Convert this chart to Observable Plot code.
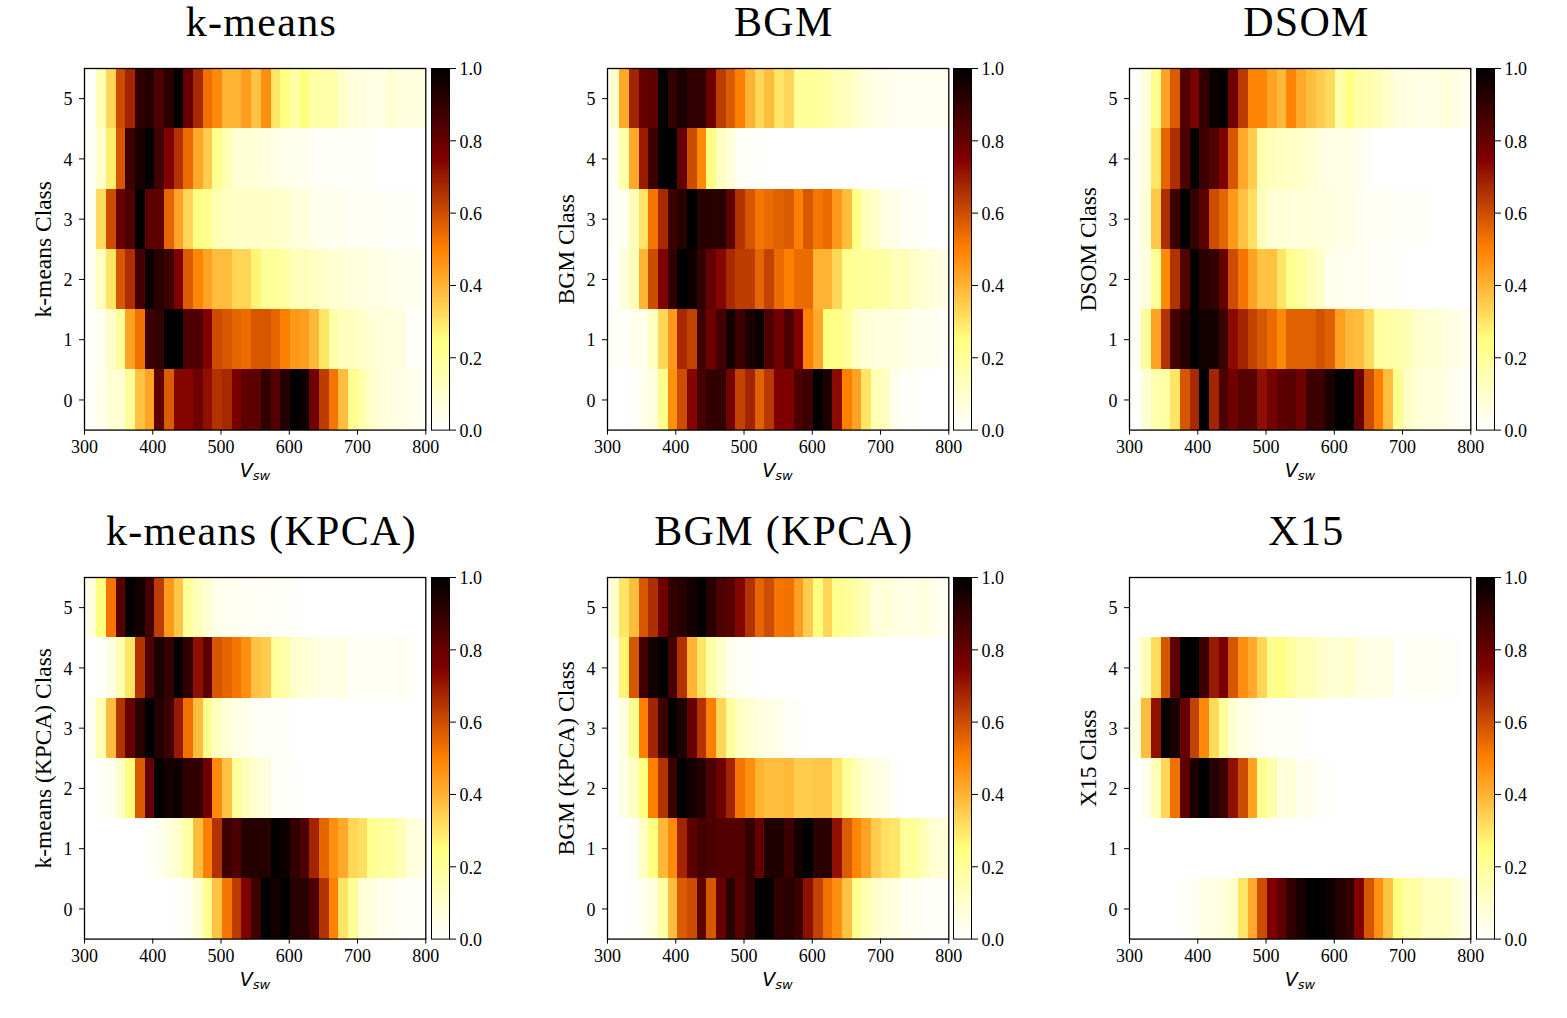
<!DOCTYPE html>
<html>
<head>
<meta charset="utf-8">
<script src="https://cdn.jsdelivr.net/npm/d3@7"></script>
<script src="https://cdn.jsdelivr.net/npm/@observablehq/plot@0.6"></script>
<style>
  html, body { margin: 0; background: #fff; }
  #page { position: relative; width: 1567px; height: 1018px; overflow: hidden; }
  #page svg { position: absolute; overflow: visible; }
  #page svg [aria-label="y-axis tick label"] { translate: 0 1px; }
  .title {
    position: absolute; transform: translateX(-50%); white-space: pre;
    font: 42px/46px "Liberation Serif", serif; letter-spacing: 1.3px; color: #000;
  }
  .vsw {
    position: absolute; transform: translateX(-50%); white-space: pre;
    font: italic 19px/22px "DejaVu Sans", sans-serif; color: #000;
  }
  .vsw sub { font-size: 13px; line-height: 0; vertical-align: -3px; }
</style>
</head>
<body>
<div id="page"></div>
<script>
// Six heatmaps of Vsw per class, each with its own colorbar. Colormap is afmhot_r.

// Bin edges on the Vsw axis (35 bins).
const vswEdges = [303.8, 318, 332.2, 346.4, 360.5, 374.7, 388.9, 403.1, 417.3, 431.5, 445.6, 459.8,
  474, 488.2, 502.4, 516.5, 530.7, 544.9, 559.1, 573.3, 587.5, 601.6, 615.8, 630, 644.2, 658.4,
  672.5, 686.7, 700.9, 715.1, 729.3, 743.5, 757.6, 771.8, 786, 800];
const xTicks = [300, 400, 500, 600, 700, 800];
const classTicks = [0, 1, 2, 3, 4, 5];
const barTicks = [0, 0.2, 0.4, 0.6, 0.8, 1];

// Each table has one row per class, class 0 first.
const kmeansRows = [
  [.01,.04,.08,.09,.2,.37,.43,.82,.57,.74,.74,.78,.72,.65,.67,.76,.82,.82,.9,.84,.93,1,.97,.78,.63,.52,.38,.22,.16,.1,.07,.06,.05,.04,.03],
  [.01,.03,.1,.2,.43,.53,.88,.9,1,1,.85,.85,.75,.6,.58,.55,.54,.58,.58,.55,.5,.45,.44,.39,.3,.17,.13,.12,.1,.08,.07,.07,.06,.01,.01],
  [.03,.12,.3,.58,.66,.87,.98,.92,.88,.75,.57,.49,.43,.38,.38,.33,.33,.27,.2,.2,.18,.14,.13,.12,.1,.09,.08,.07,.07,.05,.05,.04,.04,.03,.03],
  [.03,.32,.6,.8,.85,1,.82,.82,.55,.43,.33,.24,.22,.14,.12,.11,.11,.11,.11,.11,.1,.07,.07,.04,.04,.03,.03,.02,.02,.02,.02,.01,.01,.01,0],
  [.02,.1,.28,.58,.88,.95,.99,.87,.75,.65,.54,.42,.35,.22,.15,.09,.08,.07,.06,.05,.04,.04,.03,.02,.02,.01,.01,.01,.01,.01,0,0,0,0,0],
  [.01,.14,.33,.6,.68,.9,.93,.85,.92,.99,.8,.67,.53,.48,.4,.4,.44,.37,.47,.3,.25,.17,.25,.18,.17,.17,.1,.07,.06,.05,.05,.09,.07,.06,.06]
];
const bgmRows = [
  [0,0,.01,.04,.06,.22,.47,.6,.74,.86,.9,.9,.77,.62,.68,.56,.64,.75,.75,.85,.88,1,.94,.73,.5,.43,.3,.15,.12,.04,.01,.01,0,0,0],
  [.01,.01,.04,.04,.12,.33,.45,.67,.62,.88,.78,.87,.96,.88,.95,.98,.85,.78,.85,.75,.5,.42,.25,.24,.2,.11,.08,.07,.07,.06,.05,.04,.03,.03,.01],
  [0,.07,.14,.4,.6,.75,.9,1,.97,.9,.8,.74,.67,.63,.63,.55,.62,.54,.5,.54,.54,.4,.4,.33,.22,.2,.2,.18,.18,.14,.14,.1,.09,.07,.05],
  [.01,.03,.14,.3,.52,.67,.88,.93,1,.93,.92,.92,.82,.65,.58,.52,.54,.56,.57,.5,.58,.52,.54,.45,.38,.24,.13,.1,.05,.05,.02,.02,.01,0,0],
  [.02,.17,.42,.7,.88,1,1,.8,.6,.48,.24,.12,.07,.02,.01,.01,0,0,0,0,0,0,0,0,0,0,0,0,0,0,0,0,0,0,0],
  [.1,.42,.68,.8,.82,1,.9,.95,.9,.9,.78,.63,.57,.5,.4,.33,.38,.3,.33,.2,.2,.19,.18,.14,.13,.1,.07,.05,.04,.03,.03,.03,.03,.03,.03]
];
const dsomRows = [
  [.01,.08,.16,.17,.3,.58,.67,1,.68,.85,.78,.83,.83,.72,.77,.82,.83,.78,.88,.88,.95,1,1,.8,.6,.5,.38,.22,.11,.08,.06,.06,.05,.02,.01],
  [.02,.2,.43,.65,.86,.92,1,.96,.96,.88,.73,.68,.62,.58,.54,.48,.56,.56,.56,.59,.56,.44,.39,.38,.32,.19,.18,.16,.15,.1,.09,.08,.06,.05,.03],
  [.02,.07,.2,.48,.65,.84,1,.92,.9,.8,.6,.52,.43,.37,.37,.3,.22,.19,.14,.11,.04,.03,.03,.03,.02,.01,.01,.01,0,0,0,0,0,0,0],
  [.02,.08,.36,.66,.88,1,.9,.82,.6,.55,.45,.37,.31,.13,.08,.08,.07,.07,.07,.07,.06,.05,.05,.03,.02,.02,.02,.01,.01,.01,.01,0,0,0,0],
  [.02,.07,.3,.55,.66,.85,1,.88,.84,.75,.58,.42,.35,.16,.13,.12,.11,.1,.09,.06,.05,.05,.05,.04,.01,0,0,0,0,0,0,0,0,0,0],
  [.01,.07,.22,.43,.57,.84,.76,.9,.98,.99,.78,.63,.49,.49,.43,.39,.49,.42,.38,.35,.32,.17,.25,.17,.16,.13,.1,.06,.06,.05,.05,.05,.07,.05,.04]
];
const kmeansKpcaRows = [
  [0,0,0,0,0,0,0,0,0,.01,.03,.09,.22,.37,.52,.63,.75,.88,1,.96,1,.92,.92,.85,.65,.5,.3,.2,.08,.07,.03,.03,.02,.01,.01],
  [0,0,0,0,0,0,.01,.03,.07,.1,.18,.38,.5,.65,.88,.85,.93,.93,.93,1,.97,.9,.85,.68,.55,.47,.42,.33,.31,.22,.19,.18,.14,.07,.06],
  [0,.01,.03,.1,.25,.57,.8,1,.96,.97,.9,.9,.78,.48,.37,.2,.14,.09,.06,.02,.01,.01,0,0,0,0,0,0,0,0,0,0,0,0,0],
  [.03,.15,.38,.65,.8,.92,1,.93,.88,.7,.53,.38,.22,.12,.08,.05,.04,.02,.01,.01,.01,0,0,0,0,0,0,0,0,0,0,0,0,0,0],
  [0,.01,.05,.15,.3,.65,.85,.95,.9,1,.9,.72,.82,.58,.55,.52,.47,.37,.35,.2,.17,.1,.08,.07,.05,.05,.05,.02,.02,.02,.02,.02,.03,.01,0],
  [.07,.25,.52,.83,1,.96,.87,.63,.45,.36,.2,.13,.09,.04,.03,.03,.02,.02,.02,.01,.01,.01,0,0,0,0,0,0,0,0,0,0,0,0,0]
];
const bgmKpcaRows = [
  [0,0,.01,.03,.07,.18,.38,.57,.6,.82,.58,.8,.92,.83,.9,1,.99,.9,.92,.88,.72,.62,.53,.47,.37,.22,.15,.1,.07,.06,.03,.03,.02,.01,.01],
  [0,0,.02,.12,.25,.39,.48,.68,.82,.87,.85,.84,.84,.84,.9,.8,.94,.94,.88,.96,1,.92,.92,.72,.57,.49,.43,.35,.31,.3,.2,.2,.14,.08,.08],
  [0,.05,.12,.25,.5,.65,.88,1,.96,.93,.85,.78,.68,.52,.47,.4,.38,.38,.39,.35,.35,.36,.36,.3,.2,.14,.09,.06,.05,.01,0,0,0,0,0],
  [0,.06,.22,.5,.68,.88,1,.94,.8,.65,.5,.33,.2,.12,.09,.06,.05,.04,.02,.01,0,0,0,0,0,0,0,0,0,0,0,0,0,0,0],
  [.03,.27,.58,.87,.96,1,.86,.65,.4,.3,.17,.1,.04,.02,.01,0,0,0,0,0,0,0,0,0,0,0,0,0,0,0,0,0,0,0,0],
  [.1,.3,.38,.58,.66,.78,.9,.92,.96,.99,.92,.85,.83,.74,.65,.55,.6,.52,.53,.44,.35,.25,.33,.22,.2,.17,.13,.07,.08,.06,.05,.05,.06,.04,.03]
];
const x15Rows = [
  [0,0,0,0,0,.01,.02,.05,.05,.07,.1,.3,.42,.6,.75,.82,.9,.95,1,1,.98,.93,.9,.75,.58,.47,.37,.25,.18,.18,.12,.12,.12,.08,.05],
  [0,0,0,0,0,0,0,0,0,0,0,0,0,0,0,0,0,0,0,0,0,0,0,0,0,0,0,0,0,0,0,0,0,0,0],
  [0,.03,.14,.33,.53,.82,.95,1,.93,.88,.72,.6,.43,.22,.16,.07,.08,.04,.03,.01,.01,0,0,0,0,0,0,0,0,0,0,0,0,0,0],
  [.06,.38,.72,1,.95,.8,.62,.48,.32,.2,.09,.05,.04,.02,.01,.01,.01,.01,0,0,0,0,0,0,0,0,0,0,0,0,0,0,0,0,0],
  [.03,.13,.32,.58,.82,1,1,.88,.7,.76,.58,.47,.42,.33,.22,.24,.19,.15,.14,.11,.09,.08,.1,.06,.05,.05,.05,.01,.02,.02,.02,.02,.01,.01,0],
  [0,0,0,0,0,0,0,0,0,0,0,0,0,0,0,0,0,0,0,0,0,0,0,0,0,0,0,0,0,0,0,0,0,0,0]
];

const panels = [
  { title: "k-means", ylabel: "k-means Class", rows: kmeansRows, left: 84.3, top: 67.7 },
  { title: "BGM", ylabel: "BGM Class", rows: bgmRows, left: 606.7, top: 67.7 },
  { title: "DSOM", ylabel: "DSOM Class", rows: dsomRows, left: 1129.3, top: 67.7 },
  { title: "k-means (KPCA)", ylabel: "k-means (KPCA) Class", rows: kmeansKpcaRows, left: 84.3, top: 576.7 },
  { title: "BGM (KPCA)", ylabel: "BGM (KPCA) Class", rows: bgmKpcaRows, left: 606.7, top: 576.7 },
  { title: "X15", ylabel: "X15 Class", rows: x15Rows, left: 1129.3, top: 576.7 },
];

const axW = 341.3, axH = 361.6;
const serif = '"Liberation Serif", serif';
const tickFont = 18;

// matplotlib afmhot, reversed
function afmhotR(t) {
  const x = 1 - t;
  const c = function (v) { return Math.round(255 * Math.max(0, Math.min(1, v))); };
  return "rgb(" + c(2 * x) + "," + c(2 * x - 0.5) + "," + c(2 * x - 1) + ")";
}
const colorScale = { type: "linear", domain: [0, 1], interpolate: function (t) { return afmhotR(t); } };

const page = document.getElementById("page");

function place(svg, left, top) {
  svg.style.left = left + "px";
  svg.style.top = top + "px";
  page.appendChild(svg);
}

function addHtml(cls, html, left, top) {
  const el = document.createElement("div");
  el.className = cls;
  el.innerHTML = html;
  el.style.left = left + "px";
  el.style.top = top + "px";
  page.appendChild(el);
}

panels.forEach(function (p) {
  const cells = [];
  p.rows.forEach(function (row, cls) {
    row.forEach(function (v, i) {
      cells.push({ x1: vswEdges[i], x2: vswEdges[i + 1], y1: cls - 0.5, y2: cls + 0.5, v: v });
    });
  });

  const mL = 60, mB = 30, mT = 2, mR = 10;
  const heat = Plot.plot({
    width: axW + mL + mR,
    height: axH + mT + mB,
    marginLeft: mL,
    marginRight: mR,
    marginTop: mT,
    marginBottom: mB,
    style: { background: "transparent", color: "#000", fontFamily: serif },
    x: { type: "linear", domain: [300, 800] },
    y: { type: "linear", domain: [-0.5, 5.5] },
    color: colorScale,
    marks: [
      Plot.rect(cells, { x1: "x1", x2: "x2", y1: "y1", y2: "y2", fill: "v", shapeRendering: "crispEdges" }),
      Plot.frame({ stroke: "#000", strokeWidth: 1.3 }),
      Plot.axisX({ ticks: xTicks, tickFormat: function (d) { return String(d); }, tickSize: 5, tickPadding: 5, fontSize: tickFont, label: null }),
      Plot.axisY({ ticks: classTicks, tickFormat: function (d) { return String(d); }, tickSize: 5, tickPadding: 7, fontSize: tickFont, label: null }),
      // y label as a plain text mark so it can sit where matplotlib put it
      Plot.text([p.ylabel], {
        frameAnchor: "left", dx: -34, rotate: -90, fontSize: 23.5, textAnchor: "middle", lineAnchor: "bottom",
      }),
    ],
  });
  place(heat, p.left - mL, p.top - mT);

  // Colorbar, built from the same scale.
  const levels = d3.range(0, 1, 1 / 256);
  const bar = Plot.plot({
    width: 60,
    height: axH + mT + 8,
    marginLeft: 0,
    marginRight: 42,
    marginTop: mT,
    marginBottom: 8,
    style: { background: "transparent", color: "#000", fontFamily: serif },
    x: { axis: null, domain: [0, 1] },
    y: { type: "linear", domain: [0, 1] },
    color: colorScale,
    marks: [
      Plot.rect(levels, {
        x1: function () { return 0; }, x2: function () { return 1; },
        y1: function (d) { return d; }, y2: function (d) { return d + 1 / 256; },
        fill: function (d) { return d + 0.5 / 256; }, shapeRendering: "crispEdges",
      }),
      Plot.frame({ stroke: "#000", strokeWidth: 1 }),
      Plot.axisY({ anchor: "right", ticks: barTicks, tickFormat: d3.format(".1f"), tickSize: 6, tickPadding: 4, fontSize: tickFont, label: null }),
    ],
  });
  place(bar, p.left + 346.7, p.top - mT);

  addHtml("title", p.title, p.left + axW / 2 + 6.5, p.top - 69);
  addHtml("vsw", "V<sub>sw</sub>", p.left + axW / 2, p.top + axH + 30);
});
</script>
</body>
</html>
